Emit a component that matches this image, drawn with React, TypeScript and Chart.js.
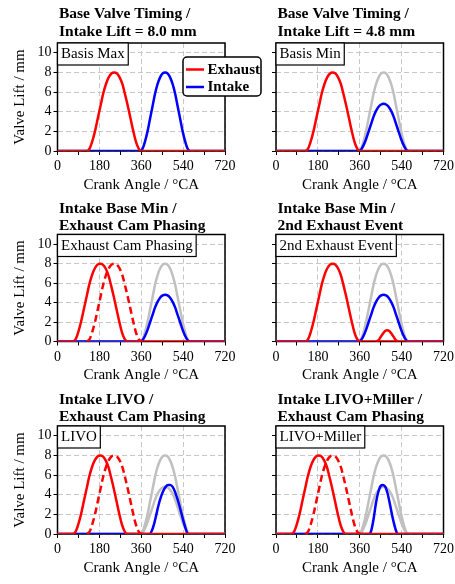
import React, { useEffect, useRef } from 'react';
import { Chart, registerables } from 'chart.js';

Chart.register(...registerables);

const FONT = "'Liberation Serif', 'Times New Roman', serif";
const RED = '#ff0000';
const BLUE = '#0000ff';
const GRAY = '#c0c0c0';
const GRID = '#c8c8c8';

const PAGE_W = 455;
const PAGE_H = 584;

// ---- tick labels ----
const X_MIN = 0;
const X_MAX = 720;
const X_STEP = 90;
const X_LABEL_STEP = 180;
const Y_MIN = 0;
const Y_MAX = 11;
const Y_STEP = 2;

// ---- data (crank angle in °CA, lift in mm) ----
const EXH_BASE_ANGLE = [0, 126, 138, 149, 161, 173, 185, 196, 208, 220, 232, 244, 255, 267, 279, 290, 302, 314, 326, 337, 349, 361, 720];
const EXH_BASE_LIFT = [0, 0, 0.25, 0.95, 2.0, 3.3, 4.6, 5.8, 6.8, 7.5, 7.9, 8, 7.9, 7.5, 6.8, 5.8, 4.6, 3.3, 2.0, 0.95, 0.25, 0, 0];

const EXH_REF_ANGLE = [126, 138, 149, 161, 173, 185, 196, 208, 220, 232, 244, 255, 267, 279, 290, 302, 314, 326, 337, 349, 361];
const EXH_REF_LIFT = [0, 0.25, 0.95, 2.0, 3.3, 4.6, 5.8, 6.8, 7.5, 7.9, 8, 7.9, 7.5, 6.8, 5.8, 4.6, 3.3, 2.0, 0.95, 0.25, 0];

const EXH_PHASED_ANGLE = [0, 66, 78, 89, 101, 113, 125, 136, 148, 160, 172, 184, 195, 207, 219, 230, 242, 254, 266, 277, 289, 301, 720];
const EXH_PHASED_LIFT = [0, 0, 0.25, 0.95, 2.0, 3.3, 4.6, 5.8, 6.8, 7.5, 7.9, 8, 7.9, 7.5, 6.8, 5.8, 4.6, 3.3, 2.0, 0.95, 0.25, 0, 0];

const EXH_2ND_ANGLE = [432, 441, 450, 460, 469, 478, 487, 496, 506, 515, 524];
const EXH_2ND_LIFT = [0, 0.14, 0.47, 0.83, 1.08, 1.15, 1.08, 0.83, 0.47, 0.14, 0];

const INT_ANGLE = [0, 355, 366, 376, 387, 398, 409, 419, 430, 441, 452, 463, 473, 484, 495, 506, 516, 527, 538, 549, 559, 570, 720];
const INT_MAX_LIFT = [0, 0, 0.25, 0.95, 2.0, 3.3, 4.6, 5.8, 6.8, 7.5, 7.9, 8, 7.9, 7.5, 6.8, 5.8, 4.6, 3.3, 2.0, 0.95, 0.25, 0, 0];
const INT_MIN_LIFT = [0, 0, 0.15, 0.57, 1.2, 1.98, 2.76, 3.48, 4.08, 4.5, 4.74, 4.8, 4.74, 4.5, 4.08, 3.48, 2.76, 1.98, 1.2, 0.57, 0.15, 0, 0];

const INT_LIVO_ANGLE = [0, 395, 405, 415, 425, 435, 445, 455, 465, 475, 485, 495, 505, 515, 525, 535, 545, 553, 560, 720];
const INT_LIVO_LIFT = [0, 0, 0.3, 1.0, 2.0, 3.0, 3.8, 4.4, 4.8, 5.0, 5.0, 4.8, 4.3, 3.6, 2.8, 1.9, 1.0, 0.4, 0, 0];

const INT_MILLER_ANGLE = [0, 400, 410, 420, 430, 440, 450, 460, 470, 480, 490, 500, 510, 518, 522, 720];
const INT_MILLER_LIFT = [0, 0, 0.4, 1.6, 3.2, 4.3, 4.9, 5.0, 4.8, 4.1, 3.0, 1.8, 0.8, 0.2, 0, 0];

// ---- text ----
const TITLES = [
  ['Base Valve Timing /', 'Intake Lift = 8.0 mm'],
  ['Base Valve Timing /', 'Intake Lift = 4.8 mm'],
  ['Intake Base Min /', 'Exhaust Cam Phasing'],
  ['Intake Base Min /', '2nd Exhaust Event'],
  ['Intake LIVO /', 'Exhaust Cam Phasing'],
  ['Intake LIVO+Miller /', 'Exhaust Cam Phasing'],
];
const PANEL_LABELS = ['Basis Max', 'Basis Min', 'Exhaust Cam Phasing', '2nd Exhaust Event', 'LIVO', 'LIVO+Miller'];
const LEGEND_LABELS = ['Exhaust', 'Intake'];
const X_TITLE = 'Crank Angle / °CA';
const Y_TITLE = 'Valve Lift / mm';

// ---- layout ----
const COL_LEFT = [57.5, 276];
const COL_RIGHT = [225, 443.5];
const ROW_TOP = [43, 234.5, 426];
const ROW_BOTTOM = [151, 341.5, 534];
const TITLE_Y = [[13.5, 31.5], [208.5, 226], [399.5, 417]];

function pts(xs: number[], ys: number[]) {
  return xs.map((x, i) => ({ x, y: ys[i] }));
}

type Curve = { xs: number[]; ys: number[]; color: string; dashed?: boolean };

const exhBase: Curve = { xs: EXH_BASE_ANGLE, ys: EXH_BASE_LIFT, color: RED };
const exhRef: Curve = { xs: EXH_REF_ANGLE, ys: EXH_REF_LIFT, color: RED, dashed: true };
const exhPhased: Curve = { xs: EXH_PHASED_ANGLE, ys: EXH_PHASED_LIFT, color: RED };
const exh2nd: Curve = { xs: EXH_2ND_ANGLE, ys: EXH_2ND_LIFT, color: RED };
const intMax: Curve = { xs: INT_ANGLE, ys: INT_MAX_LIFT, color: BLUE };
const intMin: Curve = { xs: INT_ANGLE, ys: INT_MIN_LIFT, color: BLUE };
const grayMax: Curve = { xs: INT_ANGLE, ys: INT_MAX_LIFT, color: GRAY };
const grayMin: Curve = { xs: INT_ANGLE, ys: INT_MIN_LIFT, color: GRAY };
const intLivo: Curve = { xs: INT_LIVO_ANGLE, ys: INT_LIVO_LIFT, color: BLUE };
const intMiller: Curve = { xs: INT_MILLER_ANGLE, ys: INT_MILLER_LIFT, color: BLUE };

// drawn order: first in list is on top
const PANEL_CURVES: Curve[][] = [
  [exhBase, intMax],
  [exhBase, intMin, grayMax],
  [exhPhased, exhRef, intMin, grayMax],
  [exh2nd, exhBase, intMin, grayMax],
  [exhPhased, exhRef, intLivo, grayMin, grayMax],
  [exhPhased, exhRef, intMiller, grayMin, grayMax],
];

function makeConfig(idx: number): any {
  const col = idx % 2;
  const row = Math.floor(idx / 2);
  const plotLeft = COL_LEFT[col];
  const plotRight = COL_RIGHT[col];
  const plotTop = ROW_TOP[row];
  const plotBottom = ROW_BOTTOM[row];
  const yW = col === 0 ? 46.5 : 8;
  const xH = 43;

  const decor = {
    id: 'decor' + idx,
    beforeDatasetsDraw(chart: any) {
      const { ctx, chartArea: a } = chart;
      ctx.save();
      ctx.strokeStyle = '#000';
      ctx.lineWidth = 1.5;
      ctx.strokeRect(a.left, a.top, a.right - a.left, a.bottom - a.top);
      ctx.restore();
    },
    afterDraw(chart: any) {
      const { ctx, chartArea: a } = chart;
      ctx.save();
      // title
      ctx.fillStyle = '#000';
      ctx.font = `bold 15.5px ${FONT}`;
      ctx.textAlign = 'left';
      ctx.textBaseline = 'middle';
      TITLES[idx].forEach((t, i) => ctx.fillText(t, a.left + 1.5, TITLE_Y[row][i]));
      // panel label box
      ctx.font = `15px ${FONT}`;
      const label = PANEL_LABELS[idx];
      const w = ctx.measureText(label).width + 7;
      const h = 22;
      ctx.fillStyle = '#fff';
      ctx.fillRect(a.left, a.top, w, h);
      ctx.strokeStyle = '#000';
      ctx.lineWidth = 1.2;
      ctx.strokeRect(a.left, a.top, w, h);
      ctx.fillStyle = '#000';
      ctx.fillText(label, a.left + 3.5, a.top + h / 2 + 0.5);
      // legend (first panel only)
      if (idx === 0) {
        const lx = 183, ly = 57, lw = 78, lh = 39;
        ctx.beginPath();
        if ((ctx as any).roundRect) (ctx as any).roundRect(lx, ly, lw, lh, 4);
        else ctx.rect(lx, ly, lw, lh);
        ctx.fillStyle = '#fff';
        ctx.fill();
        ctx.lineWidth = 1.5;
        ctx.strokeStyle = '#000';
        ctx.stroke();
        const colors = [RED, BLUE];
        const ys = [69.5, 87];
        ctx.font = `bold 15px ${FONT}`;
        LEGEND_LABELS.forEach((t, i) => {
          ctx.beginPath();
          ctx.moveTo(186, ys[i]);
          ctx.lineTo(204, ys[i]);
          ctx.strokeStyle = colors[i];
          ctx.lineWidth = 2.5;
          ctx.stroke();
          ctx.fillStyle = '#000';
          ctx.fillText(t, 207.5, ys[i] + 0.5);
        });
      }
      ctx.restore();
    },
  };

  const datasets = PANEL_CURVES[idx].map((c) => ({
    data: pts(c.xs, c.ys),
    borderColor: c.color,
    borderWidth: 2.5,
    borderDash: c.dashed ? [7, 4] : [],
    pointRadius: 0,
    fill: false,
    cubicInterpolationMode: 'monotone',
  }));

  return {
    type: 'line',
    data: { datasets },
    plugins: [decor],
    options: {
      responsive: false,
      animation: false,
      events: [],
      layout: {
        autoPadding: false,
        padding: {
          left: plotLeft - yW,
          right: PAGE_W - plotRight,
          top: plotTop,
          bottom: PAGE_H - plotBottom - xH,
        },
      },
      plugins: {
        legend: { display: false },
        tooltip: { enabled: false },
        title: { display: false },
      },
      scales: {
        x: {
          type: 'linear',
          min: X_MIN,
          max: X_MAX,
          afterFit: (s: any) => {
            s.height = xH;
            s.paddingLeft = 0;
            s.paddingRight = 0;
          },
          ticks: {
            stepSize: X_STEP,
            autoSkip: false,
            maxRotation: 0,
            padding: 3,
            color: '#000',
            font: { family: FONT, size: 14 },
            callback: (v: any) => (Number(v) % X_LABEL_STEP === 0 ? String(v) : ''),
          },
          grid: {
            color: (ctx: any) => (ctx.tick && ctx.tick.value % X_LABEL_STEP === 0 ? GRID : 'rgba(0,0,0,0)'),
            lineWidth: 1,
            tickColor: '#000',
            tickLength: 4,
            tickWidth: 1,
            tickBorderDash: [],
          },
          border: { display: false, dash: [5, 3] },
          title: {
            display: true,
            text: X_TITLE,
            color: '#000',
            font: { family: FONT, size: 15 },
            padding: 0,
          },
        },
        y: {
          type: 'linear',
          min: Y_MIN,
          max: Y_MAX,
          afterFit: (s: any) => {
            s.width = yW;
            s.paddingTop = 0;
            s.paddingBottom = 0;
          },
          ticks: {
            stepSize: Y_STEP,
            includeBounds: false,
            display: col === 0,
            padding: 2,
            color: '#000',
            font: { family: FONT, size: 14 },
          },
          grid: {
            color: GRID,
            lineWidth: 1,
            tickColor: '#000',
            tickLength: 4,
            tickWidth: 1,
            tickBorderDash: [],
          },
          border: { display: false, dash: [5, 3] },
          title: {
            display: col === 0,
            text: Y_TITLE,
            color: '#000',
            font: { family: FONT, size: 15 },
            padding: 0,
          },
        },
      },
    },
  };
}

function Panel({ idx }: { idx: number }) {
  const ref = useRef<HTMLCanvasElement | null>(null);
  useEffect(() => {
    if (!ref.current) return;
    const chart = new Chart(ref.current, makeConfig(idx));
    return () => chart.destroy();
  }, [idx]);
  return (
    <canvas
      ref={ref}
      width={PAGE_W}
      height={PAGE_H}
      style={{ position: 'absolute', left: 0, top: 0, width: PAGE_W, height: PAGE_H }}
    />
  );
}

export default function App() {
  return (
    <div style={{ position: 'absolute', left: 0, top: 0, width: PAGE_W, height: PAGE_H, background: '#fff' }}>
      {[0, 1, 2, 3, 4, 5].map((i) => (
        <Panel key={i} idx={i} />
      ))}
    </div>
  );
}
